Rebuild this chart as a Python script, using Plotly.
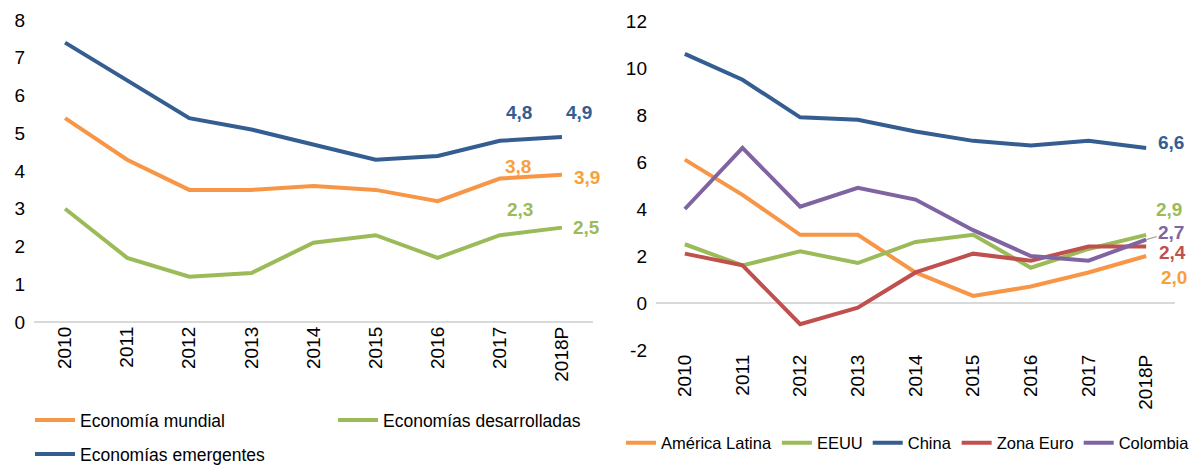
import plotly.graph_objects as go

# ---------------- data ----------------
years = ["2010", "2011", "2012", "2013", "2014", "2015", "2016", "2017", "2018P"]

economia_mundial = [5.4, 4.3, 3.5, 3.5, 3.6, 3.5, 3.2, 3.8, 3.9]
economias_desarrolladas = [3.0, 1.7, 1.2, 1.3, 2.1, 2.3, 1.7, 2.3, 2.5]
economias_emergentes = [7.4, 6.4, 5.4, 5.1, 4.7, 4.3, 4.4, 4.8, 4.9]

america_latina = [6.1, 4.6, 2.9, 2.9, 1.3, 0.3, 0.7, 1.3, 2.0]
eeuu = [2.5, 1.6, 2.2, 1.7, 2.6, 2.9, 1.5, 2.3, 2.9]
china = [10.6, 9.5, 7.9, 7.8, 7.3, 6.9, 6.7, 6.9, 6.6]
zona_euro = [2.1, 1.6, -0.9, -0.2, 1.3, 2.1, 1.8, 2.4, 2.4]
colombia = [4.0, 6.6, 4.1, 4.9, 4.4, 3.1, 2.0, 1.8, 2.7]

left_ticks = [0, 1, 2, 3, 4, 5, 6, 7, 8]
right_ticks = [-2, 0, 2, 4, 6, 8, 10, 12]

# ---------------- styles ----------------
BLUE = "#345D91"
ORANGE = "#F79646"
GREEN = "#9BBB59"
RED = "#C0504D"
PURPLE = "#8064A2"
ORANGE_TXT = "#F6A13A"
FONT = "Arial, Liberation Sans, sans-serif"
W, H = 1195, 466

fig = go.Figure()

def add_line(x, y, name, color, xa, ya, legend):
    fig.add_trace(go.Scatter(
        x=x, y=y, name=name, mode="lines",
        line=dict(color=color, width=4),
        xaxis=xa, yaxis=ya, legend=legend,
        hoverinfo="skip",
    ))

add_line(years, economia_mundial, "Economía mundial", ORANGE, "x", "y", "legend")
add_line(years, economias_desarrolladas, "Economías desarrolladas", GREEN, "x", "y", "legend")
add_line(years, economias_emergentes, "Economías emergentes", BLUE, "x", "y", "legend2")

add_line(years, america_latina, "América Latina", ORANGE, "x2", "y2", "legend3")
add_line(years, eeuu, "EEUU", GREEN, "x2", "y2", "legend3")
add_line(years, china, "China", BLUE, "x2", "y2", "legend3")
add_line(years, zona_euro, "Zona Euro", RED, "x2", "y2", "legend3")
add_line(years, colombia, "Colombia", PURPLE, "x2", "y2", "legend3")

def fmt(v):
    return f"{v:.1f}".replace(".", ",")

def label(series, idx, color, xa, ya, dx, dy, arrow=False):
    v = series[idx]
    ann = dict(
        x=idx, y=v, xref=xa, yref=ya, text=fmt(v),
        font=dict(family=FONT, size=19, color=color, weight="bold"),
        xanchor="center", yanchor="middle",
    )
    if arrow:
        ann.update(showarrow=True, arrowhead=0, arrowwidth=1.2,
                   arrowcolor="#A6A6A6", ax=dx, ay=dy, standoff=0)
    else:
        ann.update(showarrow=False, xshift=dx, yshift=-dy)
    fig.add_annotation(**ann)

# left chart labels
label(economias_emergentes, 7, BLUE, "x", "y", 19, -28)
label(economias_emergentes, 8, BLUE, "x", "y", 17, -25)
label(economia_mundial, 7, ORANGE_TXT, "x", "y", 18, -12)
label(economia_mundial, 8, ORANGE_TXT, "x", "y", 25, 3)
label(economias_desarrolladas, 7, GREEN, "x", "y", 20, -26)
label(economias_desarrolladas, 8, GREEN, "x", "y", 25, 0)

# right chart labels
label(china, 8, BLUE, "x2", "y2", 25, -5)
label(eeuu, 8, GREEN, "x2", "y2", 23, -25)
label(colombia, 8, PURPLE, "x2", "y2", 25, -7, arrow=True)
label(zona_euro, 8, RED, "x2", "y2", 26, 6)
label(america_latina, 8, ORANGE_TXT, "x2", "y2", 28, 21)

axis_font = dict(family=FONT, size=19, color="#000000")

xcommon = dict(
    type="category", range=[-0.5, 8.5], tickangle=-90,
    showgrid=False, zeroline=False, showline=False, ticks="",
    tickfont=axis_font, fixedrange=True, automargin=False,
)
ycommon = dict(
    showgrid=False, zeroline=True, zerolinecolor="#D9D9D9", zerolinewidth=2,
    showline=False, ticks="", tickfont=axis_font, ticklabelstandoff=8,
    fixedrange=True, automargin=False,
)

legend_common = dict(
    orientation="h", bgcolor="rgba(0,0,0,0)",
    xref="container", yref="container", xanchor="left", yanchor="middle",
    itemclick=False, itemdoubleclick=False, tracegroupgap=0,
)
left_legend_font = dict(family=FONT, size=17.5, color="#000000")
right_legend_font = dict(family=FONT, size=16.5, color="#000000")

fig.update_layout(
    width=W, height=H,
    margin=dict(l=0, r=0, t=0, b=0, autoexpand=False),
    paper_bgcolor="white", plot_bgcolor="white",
    font=dict(family=FONT),
    showlegend=True,
    xaxis=dict(domain=[34 / W, 593 / W], anchor="y", **xcommon),
    yaxis=dict(domain=[1 - 322 / H, 1 - 20 / H], anchor="x",
               range=[0, 8], tickvals=left_ticks,
               ticktext=[str(t) for t in left_ticks], **ycommon),
    xaxis2=dict(domain=[656 / W, 1175 / W], anchor="y2", **xcommon),
    yaxis2=dict(domain=[1 - 350 / H, 1 - 21 / H], anchor="x2",
                range=[-2, 12], tickvals=right_ticks,
                ticktext=[str(t) for t in right_ticks], **ycommon),
    legend=dict(x=30 / W, y=1 - 420 / H, entrywidth=248, itemwidth=40,
                font=left_legend_font, **legend_common),
    legend2=dict(x=30 / W, y=1 - 454 / H, itemwidth=40,
                 font=left_legend_font, **legend_common),
    legend3=dict(x=621 / W, y=1 - 443 / H, itemwidth=30,
                 font=right_legend_font, **legend_common),
)

fig.write_html(
    "out.html",
    config={"displayModeBar": False, "staticPlot": True},
    post_script="document.body.style.margin='0px';document.body.style.overflow='hidden';",
)
